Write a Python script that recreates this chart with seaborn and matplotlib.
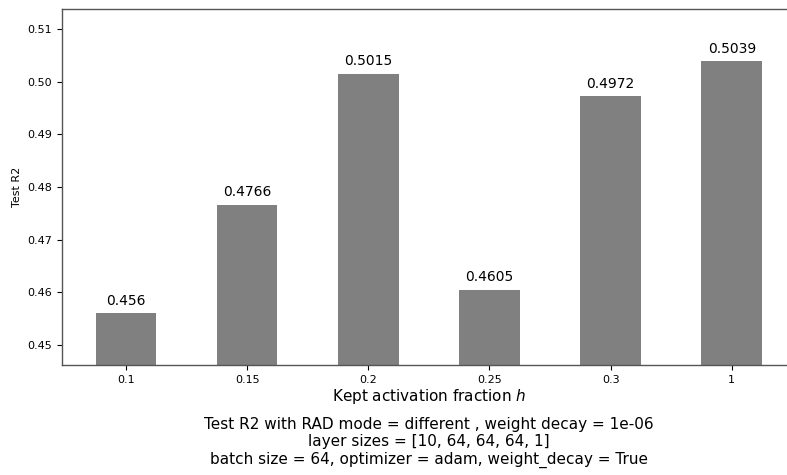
import matplotlib
matplotlib.use("Agg")
import matplotlib.pyplot as plt
import seaborn as sns
import pandas as pd

fractions = ["0.1", "0.15", "0.2", "0.25", "0.3", "1"]
test_r2 = [0.456, 0.4766, 0.5015, 0.4605, 0.4972, 0.5039]
bar_labels = ["0.456", "0.4766", "0.5015", "0.4605", "0.4972", "0.5039"]

df = pd.DataFrame({"fraction": fractions, "r2": test_r2})

sns.set_style("white")
plt.rcParams["font.family"] = ["DejaVu Sans"]
plt.rcParams.update({
    "text.color": "black",
    "axes.labelcolor": "black",
    "xtick.color": "black",
    "ytick.color": "black",
})

fig = plt.figure(figsize=(7.87, 4.75), dpi=100)
ax = fig.add_axes([62 / 787, 1 - 365 / 475, (796 - 62) / 787, (365 - 9) / 475])

sns.barplot(data=df, x="fraction", y="r2", color="#808080", saturation=1,
            width=0.5, linewidth=0, edgecolor="none", ax=ax)

for i, (v, lab) in enumerate(zip(test_r2, bar_labels)):
    ax.annotate(lab, (i, v), xytext=(0, 4), textcoords="offset points",
                ha="center", va="bottom", fontsize=10)

ax.set_ylim(0.4462, 0.5138)
ax.set_xlim(-0.528, 5.53)
ax.set_yticks([0.45, 0.46, 0.47, 0.48, 0.49, 0.50, 0.51])
ax.set_yticklabels(["0.45", "0.46", "0.47", "0.48", "0.49", "0.50", "0.51"])
ax.tick_params(axis="both", labelsize=8, length=3.5, width=0.8, color="black",
               labelcolor="black", left=True, bottom=True)
for s in ax.spines.values():
    s.set_color("#555555")
    s.set_linewidth(1.0)

ax.set_ylabel("Test R2", fontsize=8)
ax.set_xlabel("Kept activation fraction $h$", fontsize=11, labelpad=2)

ax.text(0.5, -0.146, "Test R2 with RAD mode = different , weight decay = 1e-06\n"
        "layer sizes = [10, 64, 64, 64, 1]\n"
        "batch size = 64, optimizer = adam, weight_decay = True",
        transform=ax.transAxes, ha="center", va="top", fontsize=11,
        linespacing=1.2)

fig.savefig("out.png", dpi=100)
